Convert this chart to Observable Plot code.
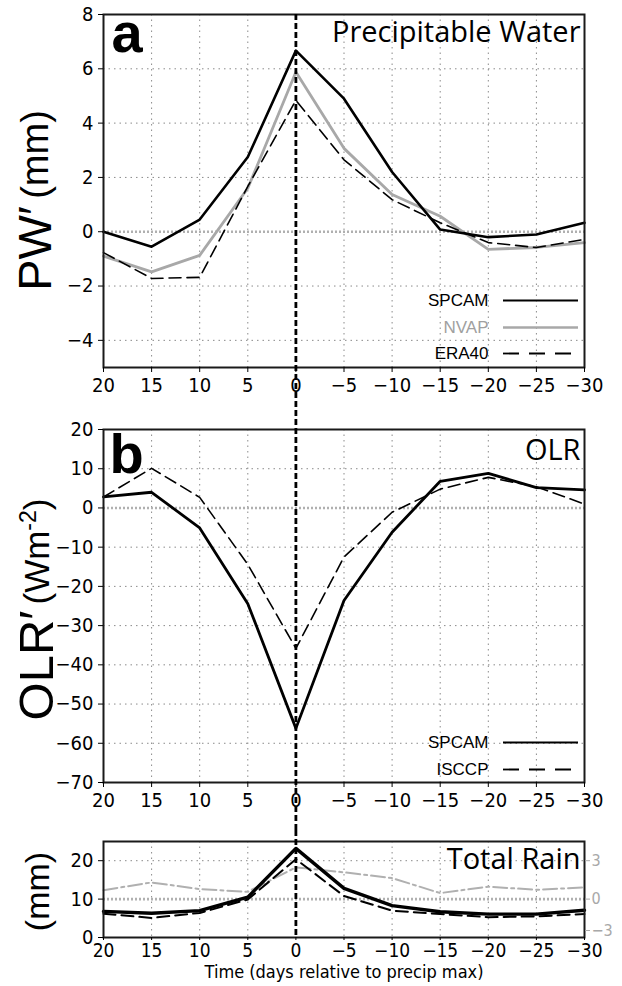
<!DOCTYPE html>
<html>
<head>
<meta charset="utf-8">
<script src="https://cdn.jsdelivr.net/npm/d3@7"></script>
<script src="https://cdn.jsdelivr.net/npm/@observablehq/plot@0.6"></script>
<style>
  body { margin: 0; background: #fff; }
  #chart { position: relative; width: 622px; height: 986px; overflow: hidden; }
  #chart > svg { position: absolute; left: 0; }
</style>
</head>
<body>
<div id="chart"></div>
<script>
// ---------- data ----------
const days = [20, 15, 10, 5, 0, -5, -10, -15, -20, -25, -30];
const xTicks = [20, 15, 10, 5, 0, -5, -10, -15, -20, -25, -30];

const pwSPCAM = [0.0, -0.55, 0.45, 2.75, 6.67, 4.9, 2.2, 0.08, -0.2, -0.1, 0.33];
const pwNVAP  = [-0.9, -1.48, -0.87, 1.6, 5.88, 3.07, 1.37, 0.57, -0.65, -0.58, -0.4];
const pwERA40 = [-0.77, -1.72, -1.68, 1.67, 4.84, 2.65, 1.18, 0.33, -0.4, -0.58, -0.28];
const pwTicks = [-4, -2, 0, 2, 4, 6, 8];

const olrSPCAM = [2.8, 4.0, -5.1, -24.4, -56.2, -23.6, -6.2, 6.8, 8.8, 5.2, 4.6];
const olrISCCP = [2.8, 10.1, 2.7, -14.4, -35.8, -12.5, -1.1, 4.8, 7.8, 5.4, 1.0];
const olrTicks = [-70, -60, -50, -40, -30, -20, -10, 0, 10, 20];

const rainSPCAM = [6.8, 6.3, 7.0, 10.5, 23.2, 12.8, 8.3, 6.7, 6.1, 6.1, 7.1];
const rainObs   = [6.2, 5.1, 6.4, 9.9, 20.4, 10.8, 7.0, 6.1, 5.3, 5.5, 6.1];
const rainDiff  = [0.7, 1.3, 0.78, 0.57, 2.48, 2.09, 1.64, 0.47, 0.97, 0.73, 0.91]; // right axis units
const rainTicks = [0, 10, 20];
const rainRightTicks = [-3, 0, 3];

// ---------- styles ----------
const W = 622, ML = 103, MR = 38;
const tickFont = "'Liberation Sans Narrow','DejaVu Sans Condensed',sans-serif";
const textFont = "'Open Sans','Liberation Sans',sans-serif";
const boldFont = "'Liberation Sans',Arial,sans-serif";
const labelFont = "'Liberation Sans',Arial,sans-serif";
const legendFont = "'Liberation Sans',Arial,sans-serif";
const fmt = d => { const r = Math.round(d * 100) / 100; return r < 0 ? "\u2212" + Math.abs(r) : String(r); };
const gridStyle = {stroke: "#8a8a8a", strokeOpacity: 1, strokeWidth: 1, strokeDasharray: "1.5,4"};
const zeroStyle = {stroke: "#b0b0b0", strokeWidth: 2.6, strokeDasharray: "2,2"};
const gridXVals = xTicks.filter(d => d !== 20 && d !== -30 && d !== 0);
const svgStyle = {fontFamily: tickFont, fontSize: "20px", background: "none", overflow: "visible", color: "#000"};
const X = (d, i) => days[i];
const Y = d => d;

// right-axis (rain difference) mapping onto left units: 0 -> 10, 3 -> 20
const toLeft = v => 10 + v * 10 / 3;
const fromLeft = d => (d - 10) * 0.3;

function legendRow(label, dyc, textColor, lineOpts) {
  return [
    Plot.text([label], {frameAnchor: "right", textAnchor: "end", dx: -96, dy: dyc,
      fill: textColor, fontFamily: legendFont, fontSize: 17}),
    Plot.ruleY([0], {y: null, dy: dyc, insetLeft: 400, insetRight: 6, ...lineOpts})
  ];
}

// ---------- panel a ----------
const A = Plot.plot({
  width: W, height: 410, marginLeft: ML, marginRight: MR, marginTop: 14, marginBottom: 43,
  style: svgStyle,
  x: {domain: [20, -30]},
  y: {domain: [-5, 8]},
  marks: [
    Plot.gridX(gridXVals, gridStyle),
    Plot.gridY(pwTicks.filter(d => d !== 0 && d !== 8), gridStyle),
    Plot.ruleY([0], zeroStyle),
    Plot.line(pwNVAP, {x: X, y: Y, stroke: "#a8a8a8", strokeWidth: 2.8}),
    Plot.line(pwERA40, {x: X, y: Y, stroke: "#000", strokeWidth: 1.6, strokeDasharray: "12,6"}),
    Plot.line(pwSPCAM, {x: X, y: Y, stroke: "#000", strokeWidth: 2.6}),
    Plot.frame({stroke: "#1a1a1a", strokeWidth: 2}),
    Plot.axisX(xTicks, {anchor: "bottom", tickSize: 5, tickPadding: 5, tickFormat: fmt}),
    Plot.axisY(pwTicks, {anchor: "left", tickSize: 5, tickPadding: 5, tickFormat: fmt}),
    Plot.ruleX([0], {stroke: "#000", strokeWidth: 2.8, strokeDasharray: "6,3", insetBottom: -43}),
    Plot.text(["a"], {frameAnchor: "top-left", textAnchor: "start", lineAnchor: "bottom", dx: 8, dy: 37,
      fontSize: 56, fontWeight: "bold", fontFamily: boldFont}),
    Plot.text(["Precipitable Water"], {frameAnchor: "top-right", textAnchor: "end", lineAnchor: "bottom",
      dx: -4, dy: 27, fontSize: 29, fontFamily: textFont}),
    Plot.text(["PW\u2032"], {frameAnchor: "top-left", rotate: -90, textAnchor: "middle", lineAnchor: "bottom",
      dx: -53, dy: 234, fontSize: 47, fontFamily: labelFont}),
    Plot.text(["(mm)"], {frameAnchor: "top-left", rotate: -90, textAnchor: "middle", lineAnchor: "bottom",
      dx: -56, dy: 140, fontSize: 38, fontFamily: labelFont}),
    ...legendRow("SPCAM", 109.5, "#000", {stroke: "#000", strokeWidth: 2}),
    ...legendRow("NVAP", 136.5, "#a0a0a0", {stroke: "#a8a8a8", strokeWidth: 2.4}),
    ...legendRow("ERA40", 162.5, "#000", {stroke: "#000", strokeWidth: 1.8, strokeDasharray: "16,10"})
  ]
});
A.style.top = "0px";

// ---------- panel b ----------
const B = Plot.plot({
  width: W, height: 420, marginLeft: ML, marginRight: MR, marginTop: 19, marginBottom: 48,
  style: svgStyle,
  x: {domain: [20, -30]},
  y: {domain: [-70, 20]},
  marks: [
    Plot.gridX(gridXVals, gridStyle),
    Plot.gridY(olrTicks.filter(d => d !== 0 && d !== 20 && d !== -70), gridStyle),
    Plot.ruleY([0], zeroStyle),
    Plot.line(olrISCCP, {x: X, y: Y, stroke: "#000", strokeWidth: 1.6, strokeDasharray: "12,6"}),
    Plot.line(olrSPCAM, {x: X, y: Y, stroke: "#000", strokeWidth: 2.8}),
    Plot.frame({stroke: "#1a1a1a", strokeWidth: 2}),
    Plot.axisX(xTicks, {anchor: "bottom", tickSize: 5, tickPadding: 5, tickFormat: fmt}),
    Plot.axisY(olrTicks, {anchor: "left", tickSize: 5, tickPadding: 5, tickFormat: fmt}),
    Plot.ruleX([0], {stroke: "#000", strokeWidth: 2.8, strokeDasharray: "6,3", insetTop: -19, insetBottom: -48}),
    Plot.text(["b"], {frameAnchor: "top-left", textAnchor: "start", lineAnchor: "bottom", dx: 6, dy: 43,
      fontSize: 56, fontWeight: "bold", fontFamily: boldFont}),
    Plot.text(["OLR"], {frameAnchor: "top-right", textAnchor: "end", lineAnchor: "bottom",
      dx: -4, dy: 30, fontSize: 29, fontFamily: textFont}),
    Plot.text(["OLR\u2032"], {frameAnchor: "top-left", rotate: -90, textAnchor: "middle", lineAnchor: "bottom",
      dx: -51, dy: 236, fontSize: 49, fontFamily: labelFont}),
    Plot.text(["(Wm\u207B\u00B2)"], {frameAnchor: "top-left", rotate: -90, textAnchor: "middle", lineAnchor: "bottom",
      dx: -55, dy: 122, fontSize: 35, fontFamily: labelFont}),
    ...legendRow("SPCAM", 136.5, "#000", {stroke: "#000", strokeWidth: 2}),
    ...legendRow("ISCCP", 163.5, "#000", {stroke: "#000", strokeWidth: 1.8, strokeDasharray: "16,10"})
  ]
});
B.style.top = "410px";

// ---------- panel c ----------
const C = Plot.plot({
  width: W, height: 156, marginLeft: ML, marginRight: MR, marginTop: 11, marginBottom: 49,
  style: svgStyle,
  x: {domain: [20, -30]},
  y: {domain: [0, 25]},
  marks: [
    Plot.gridX(gridXVals, gridStyle),
    Plot.gridY([20], gridStyle),
    Plot.ruleY([toLeft(0)], zeroStyle),
    Plot.line(rainDiff, {x: X, y: d => toLeft(d), stroke: "#b0b0b0", strokeWidth: 2, strokeDasharray: "14,4,3,4"}),
    Plot.line(rainObs, {x: X, y: Y, stroke: "#000", strokeWidth: 2, strokeDasharray: "12,6"}),
    Plot.line(rainSPCAM, {x: X, y: Y, stroke: "#000", strokeWidth: 3.4}),
    Plot.frame({stroke: "#1a1a1a", strokeWidth: 2}),
    Plot.axisX(xTicks, {anchor: "bottom", tickSize: 3, tickPadding: 3, fontSize: 19, tickFormat: fmt}),
    Plot.axisY(rainTicks, {anchor: "left", tickSize: 5, tickPadding: 5, tickFormat: fmt}),
    // right (gray) axis: upper labels at their ticks, the bottom one nudged up clear of the x labels
    Plot.axisY(rainRightTicks.filter(v => v > -3).map(toLeft), {anchor: "right", tickSize: 5, tickPadding: 2,
      color: "#a8a8a8", fontSize: 16, tickFormat: d => fmt(fromLeft(d))}),
    Plot.axisY(rainRightTicks.filter(v => v === -3).map(toLeft), {anchor: "right", tickSize: 5, tickPadding: 2,
      color: "#a8a8a8", fontSize: 16, dy: -7, tickFormat: d => fmt(fromLeft(d))}),
    Plot.ruleX([0], {stroke: "#000", strokeWidth: 2.8, strokeDasharray: "6,3", insetTop: -11}),
    Plot.text(["Total Rain"], {frameAnchor: "top-right", textAnchor: "end", lineAnchor: "bottom",
      dx: -4, dy: 27, fontSize: 29, fontFamily: textFont}),
    Plot.text(["(mm)"], {frameAnchor: "top-left", rotate: -90, textAnchor: "middle", lineAnchor: "bottom",
      dx: -55, dy: 50, fontSize: 34, fontFamily: labelFont}),
    Plot.text(["Time (days relative to precip max)"], {frameAnchor: "bottom", dy: 40,
      fontSize: 18, fontFamily: "'DejaVu Sans Condensed','Liberation Sans Narrow',sans-serif"})
  ]
});
C.style.top = "830px";

const chart = document.getElementById("chart");
chart.append(A, B, C);

// render the OLR unit with a real superscript
for (const t of B.querySelectorAll("text")) {
  if (t.textContent === "(Wm\u207B\u00B2)") {
    const ns = "http://www.w3.org/2000/svg";
    t.textContent = "(Wm";
    const sup = document.createElementNS(ns, "tspan");
    sup.setAttribute("font-size", "23");
    sup.setAttribute("dy", "-13");
    sup.textContent = "-2";
    const close = document.createElementNS(ns, "tspan");
    close.setAttribute("dy", "13");
    close.textContent = ")";
    t.append(sup, close);
  }
}
</script>
</body>
</html>
